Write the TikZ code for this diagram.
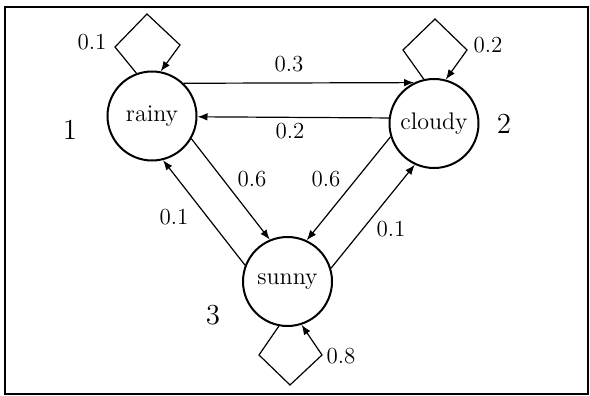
\documentclass[tikz,border=0pt]{standalone}
\usetikzlibrary{arrows.meta}
\begin{document}
\begin{tikzpicture}[x=0.5pt,y=-0.5pt,
  state/.style={circle,draw,line width=1pt,minimum size=44.5pt,inner sep=0pt,font=\fontsize{12}{14}\selectfont},
  edge/.style={line width=0.6pt,-{Latex[length=5pt,width=3.8pt]}},
  lbl/.style={font=\fontsize{11.5}{13}\selectfont,inner sep=0pt},
  big/.style={font=\fontsize{14.5}{17}\selectfont,inner sep=0pt}]
\useasboundingbox (0,0) rectangle (590,396);
\draw[line width=0.8pt] (5,7) rectangle (588,394);
\node[state] (rainy) at (152,116) {rainy};
\node[state] (cloudy) at (434,123.5) {cloudy};
\node[state] (sunny) at (287.5,281.5) {sunny};
% self loops
\coordinate (r1) at (115,47); \coordinate (r2) at (147,14); \coordinate (r3) at (180,45);
\draw[edge] (rainy.110) -- (r1) -- (r2) -- (r3) -- (rainy.79);
\coordinate (c1) at (403,50); \coordinate (c2) at (435,19); \coordinate (c3) at (467,50);
\draw[edge] (cloudy.103) -- (c1) -- (c2) -- (c3) -- (cloudy.75);
\coordinate (s1) at (259,355); \coordinate (s2) at (290,385); \coordinate (s3) at (322,355);
\draw[edge] (sunny.259) -- (s1) -- (s2) -- (s3) -- (sunny.288);
% transitions
\draw[edge] (rainy.46.8) -- (cloudy.116);
\draw[edge] (cloudy.173) -- (rainy.-1.5);
\draw[edge] (rainy.-30) -- (sunny.113);
\draw[edge] (cloudy.197) -- (sunny.65);
\draw[edge] (sunny.159) -- (rainy.-76);
\draw[edge] (sunny.17) -- (cloudy.245);
% labels
\node[lbl] (l1) at (92,42) {0.1};
\node[lbl] (l2) at (488,45) {0.2};
\node[lbl] (l3) at (341,356) {0.8};
\node[lbl] (l4) at (289,64) {0.3};
\node[lbl] (l5) at (290,131) {0.2};
\node[lbl] (l6) at (252,179) {0.6};
\node[lbl] (l7) at (326,179) {0.6};
\node[lbl] (l8) at (174,217) {0.1};
\node[lbl] (l9) at (391,229) {0.1};
\node[big] (n1) at (70,130) {1};
\node[big] (n2) at (504,124) {2};
\node[big] (n3) at (213,315) {3};
\end{tikzpicture}
\end{document}
